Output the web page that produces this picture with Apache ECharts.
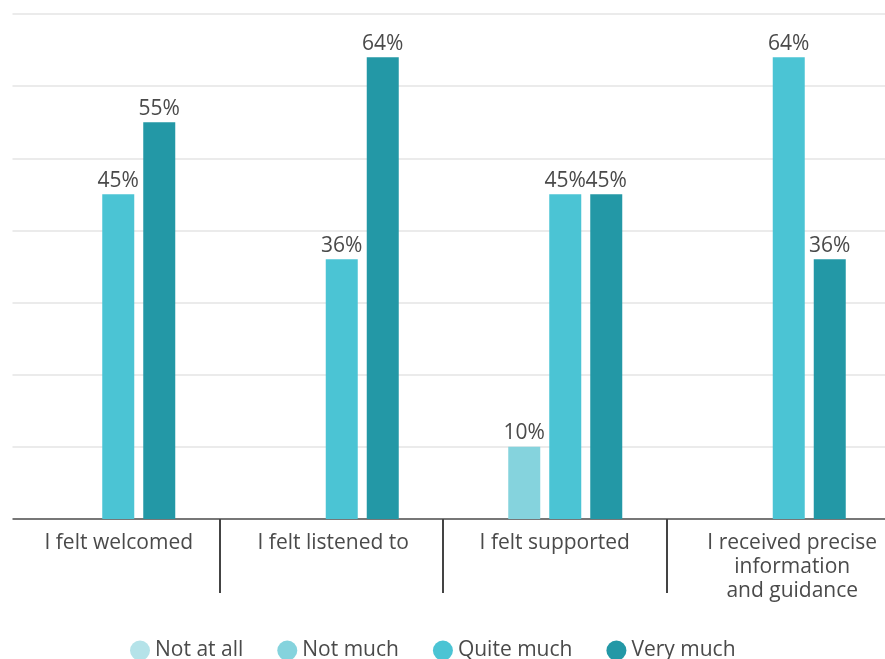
<!DOCTYPE html>
<html>
<head>
<meta charset="utf-8">
<script src="https://cdn.jsdelivr.net/npm/echarts@6/dist/echarts.min.js"></script>
<style>html,body{margin:0;padding:0;background:#fff;overflow:hidden;width:885px;height:659px}#c{position:absolute;left:-4.5px;top:0;width:894px;height:659px}</style>
</head>
<body>
<div id="c"></div>
<script>
const categories = ['I felt welcomed', 'I felt listened to', 'I felt supported', 'I received precise\ninformation\nand guidance'];
const seriesNames = ['Not at all', 'Not much', 'Quite much', 'Very much'];
const notAtAll = [null, null, null, null];
const notMuch = [null, null, 10, null];
const quiteMuch = [45, 36, 45, 64];
const veryMuch = [55, 64, 45, 36];
const yTicks = [0, 10, 20, 30, 40, 50, 60, 70];

const colors = ['#b5e3e9', '#85d3dd', '#4bc4d4', '#2398a6'];
const values = [notAtAll, notMuch, quiteMuch, veryMuch];
const FONT = 'Open Sans';
const FS = 21;
const TXT = '#4a4a4a';
const labelPad = [22, 4, 0, 28];

const chart = echarts.init(document.getElementById('c'));
const series = values.map((d, i) => ({
  name: seriesNames[i],
  type: 'bar',
  data: d,
  barWidth: 32,
  barGap: '28.125%',
  itemStyle: { color: colors[i] },
  label: {
    show: true, position: 'top', distance: 3,
    formatter: p => p.value + '%',
    fontFamily: FONT, fontSize: FS, color: TXT
  }
}));
series.push({ name: '_pad', type: 'bar', data: [null, null, null, null], barWidth: 11, barGap: '28.125%', silent: true });

const rich = {};
labelPad.forEach((p, i) => {
  rich['p' + i] = { padding: [0, 0, 0, p], fontFamily: FONT, fontSize: FS, lineHeight: 24, color: TXT };
});

chart.setOption({
  animation: false,
  textStyle: { fontFamily: FONT },
  grid: { left: 0, right: 0, top: 14, bottom: 140, containLabel: false },
  legend: {
    data: seriesNames,
    top: 635,
    left: 129,
    icon: 'circle',
    itemWidth: 20, itemHeight: 20,
    itemGap: 34,
    textStyle: { fontFamily: FONT, fontSize: FS, color: TXT }
  },
  xAxis: {
    type: 'category',
    data: categories,
    axisLine: { lineStyle: { color: '#777', width: 2 } },
    axisTick: { show: true, length: 74, lineStyle: { color: '#444', width: 2 } },
    axisLabel: {
      interval: 0, margin: 12,
      fontFamily: FONT, fontSize: FS, color: TXT, lineHeight: 24,
      formatter: (v, idx) => v.split('\n').map(s => '{p' + idx + '|' + s + '}').join('\n'),
      rich: rich
    }
  },
  yAxis: {
    type: 'value',
    min: yTicks[0], max: yTicks[yTicks.length - 1], interval: 10,
    axisLabel: { show: false },
    axisLine: { show: false },
    axisTick: { show: false },
    splitLine: { lineStyle: { color: '#ebebeb', width: 2 } }
  },
  graphic: [{ type: 'rect', left: 0, top: 0, z: 100, shape: { width: 16.5, height: 600 }, style: { fill: '#fff' } }],
  series: series
});
</script>
</body>
</html>
